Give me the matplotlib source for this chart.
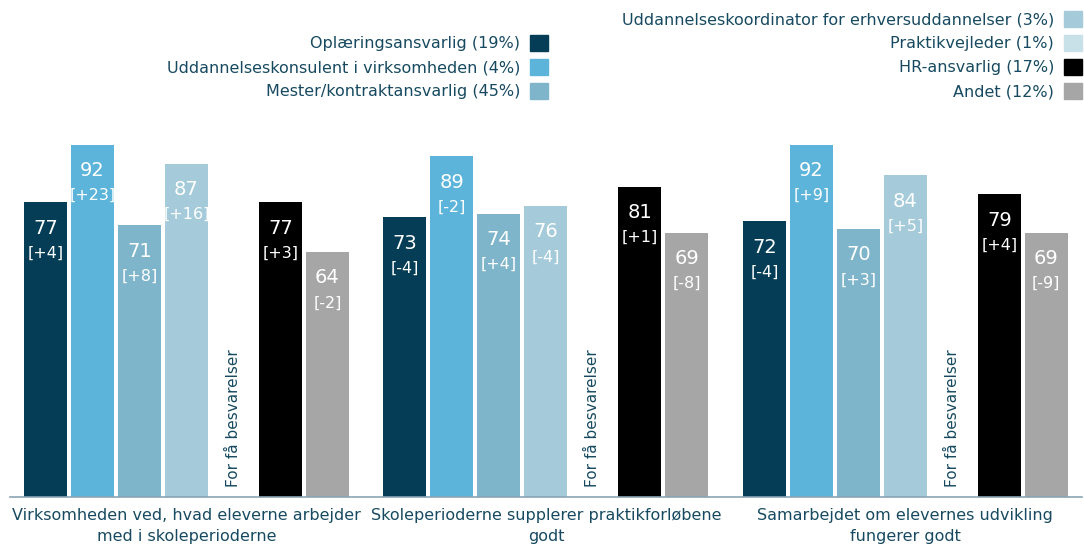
import numpy as np
import matplotlib.pyplot as plt
from matplotlib.patches import Patch

# groups (questions)
questions = [
    "Virksomheden ved, hvad eleverne arbejder\nmed i skoleperioderne",
    "Skoleperioderne supplerer praktikforløbene\ngodt",
    "Samarbejdet om elevernes udvikling\nfungerer godt",
]

roles = [
    "Oplæringsansvarlig (19%)",
    "Uddannelseskonsulent i virksomheden (4%)",
    "Mester/kontraktansvarlig (45%)",
    "Uddannelseskoordinator for erhversuddannelser (3%)",
    "Praktikvejleder (1%)",
    "HR-ansvarlig (17%)",
    "Andet (12%)",
]
colors = ["#043d55", "#5cb4da", "#7fb5ca", "#a5cbda", "#c8e0e8", "#000000", "#a6a6a6"]

# one row per role, one column per question (None = too few answers)
values = [
    [77, 73, 72],
    [92, 89, 92],
    [71, 74, 70],
    [87, 76, 84],
    [None, None, None],
    [77, 81, 79],
    [64, 69, 69],
]
changes = [
    ["+4", "-4", "-4"],
    ["+23", "-2", "+9"],
    ["+8", "+4", "+3"],
    ["+16", "-4", "+5"],
    [None, None, None],
    ["+3", "+1", "+4"],
    ["-2", "-8", "-9"],
]
missing_text = "For få besvarelser"

text_col = "#174a60"
group_step = 7.65

fig = plt.figure(figsize=(10.84, 5.48), dpi=100)
ax = fig.add_axes([10 / 1084, 51 / 548, 1072 / 1084, 383 / 548])

for i, role in enumerate(roles):
    for g in range(len(questions)):
        x = g * group_step + i
        v = values[i][g]
        if v is None:
            ax.text(x, 2.6, missing_text, rotation=90, ha="center", va="bottom",
                    fontsize=11, color=text_col)
            continue
        ax.bar(x, v, width=0.915, color=colors[i])
        ax.annotate(str(v), (x, v), xytext=(0, -26), textcoords="offset pixels",
                    ha="center", va="center", color="white", fontsize=14)
        ax.annotate("[" + changes[i][g] + "]", (x, v), xytext=(0, -51),
                    textcoords="offset pixels", ha="center", va="center",
                    color="white", fontsize=11.5)

ax.set_xlim(-0.755, 22.06)
ax.set_ylim(0, 100)
ax.set_xticks([g * group_step + 3 for g in range(len(questions))])
ax.set_xticklabels(questions, fontsize=11.5, color=text_col, va="top",
                   linespacing=1.45)
ax.tick_params(axis="x", length=0, pad=8)
ax.set_yticks([])
for s in ["top", "right", "left"]:
    ax.spines[s].set_visible(False)
ax.spines["bottom"].set_color("#8aa4b4")
ax.spines["bottom"].set_linewidth(1.2)

handles = [Patch(color=c) for c in colors]
leg_kw = dict(loc="upper right", markerfirst=False, frameon=False,
              fontsize=11.5, labelcolor=text_col, handlelength=1.15,
              handleheight=1.15, handletextpad=0.6, labelspacing=0.48,
              borderpad=0, borderaxespad=0)
fig.legend(handles[:3], roles[:3], bbox_to_anchor=(548 / 1084, 1 - 35 / 548), **leg_kw)
fig.legend(handles[3:], roles[3:], bbox_to_anchor=(1082 / 1084, 1 - 11 / 548), **leg_kw)

fig.savefig("out.png", dpi=100)
